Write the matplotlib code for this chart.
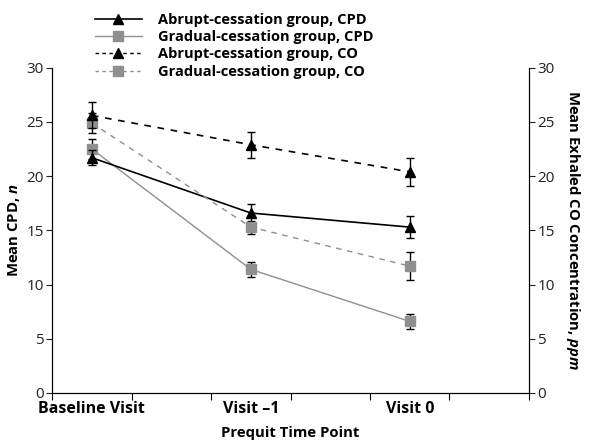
import matplotlib
matplotlib.use("Agg")
import matplotlib.pyplot as plt
from matplotlib.lines import Line2D
import numpy as np

plt.rcParams.update(
    {
        "font.family": ["Open Sans", "DejaVu Sans"],
        "font.size": 11,
        "mathtext.fontset": "custom",
        "mathtext.it": "Open Sans:italic:bold",
        "mathtext.rm": "Open Sans:bold",
    }
)

time_points = ["Baseline Visit", "Visit \u20131", "Visit 0"]
abrupt_cpd = [21.7, 16.6, 15.3]
abrupt_cpd_err = [0.7, 0.8, 1.0]
gradual_cpd = [22.5, 11.4, 6.6]
gradual_cpd_err = [0.9, 0.7, 0.7]
abrupt_co = [25.6, 22.9, 20.4]
abrupt_co_err = [1.2, 1.2, 1.3]
gradual_co = [24.9, 15.3, 11.7]
gradual_co_err = [0.9, 0.6, 1.3]

GRAY = "#8f8f8f"
DASH = (0, (4, 4))
x = np.array([0.5, 2.5, 4.5])

fig = plt.figure(figsize=(5.93, 4.46), dpi=100)
ax = fig.add_axes([0.088, 0.119, 0.804, 0.729])
ax2 = ax.twinx()

err_kw = dict(ecolor="black", elinewidth=1.0, capsize=3, capthick=1.0)

ax.errorbar(x, gradual_cpd, yerr=gradual_cpd_err, color=GRAY, lw=1.0, marker="s",
            ms=7, mec=GRAY, zorder=3, **err_kw)
ax.errorbar(x, abrupt_cpd, yerr=abrupt_cpd_err, color="black", lw=1.2, marker="^",
            ms=7.5, zorder=4, **err_kw)
ax2.errorbar(x, gradual_co, yerr=gradual_co_err, color=GRAY, lw=1.0, ls=DASH,
             marker="s", ms=7, mec=GRAY, zorder=3, **err_kw)
ax2.errorbar(x, abrupt_co, yerr=abrupt_co_err, color="black", lw=1.2, ls=DASH,
             marker="^", ms=7.5, zorder=4, **err_kw)

for a in (ax, ax2):
    a.set_ylim(0, 30)
    a.set_yticks(np.arange(0, 31, 5))
    a.spines["top"].set_visible(False)
    a.tick_params(axis="y", length=4, pad=2, labelsize=11, colors="#222222")

ax.set_xlim(0, 6)
ax.set_xticks(np.arange(0, 7))
ax.set_xticklabels([])
ax.set_xticks(x, minor=True)
ax.set_xticklabels(time_points, minor=True, fontweight="bold", fontsize=11.5)
ax.tick_params(axis="x", which="major", length=5)
ax.tick_params(axis="x", which="minor", length=0, pad=6)

ax.set_xlabel("Prequit Time Point", fontweight="bold", fontsize=10.7, labelpad=6)
ax.set_ylabel(r"Mean CPD, $n$", fontweight="bold", fontsize=10.7, labelpad=3)
ax2.set_ylabel(r"Mean Exhaled CO Concentration, $ppm$", fontweight="bold",
               fontsize=10.7, rotation=270, labelpad=20)

handles = [
    Line2D([], [], color="black", lw=1.2, marker="^", ms=7),
    Line2D([], [], color=GRAY, lw=1.0, marker="s", ms=7),
    Line2D([], [], color="black", lw=1.0, ls=(0, (2.5, 2.5)), marker="^", ms=7),
    Line2D([], [], color=GRAY, lw=1.0, ls=(0, (2.5, 2.5)), marker="s", ms=7),
]
labels = [
    "Abrupt-cessation group, CPD",
    "Gradual-cessation group, CPD",
    "Abrupt-cessation group, CO",
    "Gradual-cessation group, CO",
]
fig.legend(handles, labels, loc="upper left", bbox_to_anchor=(95 / 593, 1 - 13 / 446),
           frameon=False, prop={"weight": "bold", "size": 10.5}, handlelength=3.2,
           labelspacing=0.22, handletextpad=1.1, borderaxespad=0, borderpad=0)

fig.savefig("out.png", dpi=100)
